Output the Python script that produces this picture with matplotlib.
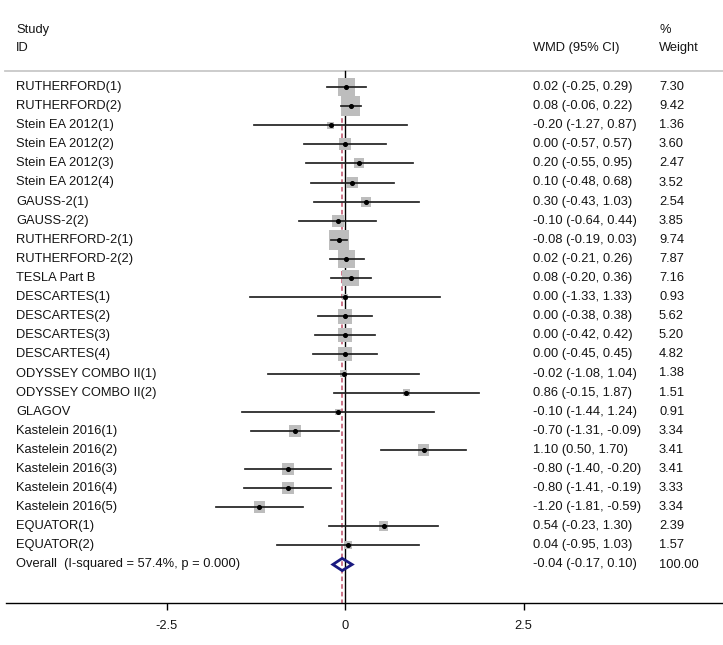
import matplotlib
matplotlib.use("Agg")
import matplotlib.pyplot as plt
import numpy as np
from matplotlib.patches import Polygon
from matplotlib.transforms import blended_transform_factory

plt.rcParams['font.family'] = ['Liberation Sans', 'DejaVu Sans']

studies = ["RUTHERFORD(1)", "RUTHERFORD(2)", "Stein EA 2012(1)", "Stein EA 2012(2)",
           "Stein EA 2012(3)", "Stein EA 2012(4)", "GAUSS-2(1)", "GAUSS-2(2)",
           "RUTHERFORD-2(1)", "RUTHERFORD-2(2)", "TESLA Part B", "DESCARTES(1)",
           "DESCARTES(2)", "DESCARTES(3)", "DESCARTES(4)", "ODYSSEY COMBO II(1)",
           "ODYSSEY COMBO II(2)", "GLAGOV", "Kastelein 2016(1)", "Kastelein 2016(2)",
           "Kastelein 2016(3)", "Kastelein 2016(4)", "Kastelein 2016(5)",
           "EQUATOR(1)", "EQUATOR(2)"]
wmd = [0.02, 0.08, -0.20, 0.00, 0.20, 0.10, 0.30, -0.10, -0.08, 0.02, 0.08, 0.00,
       0.00, 0.00, 0.00, -0.02, 0.86, -0.10, -0.70, 1.10, -0.80, -0.80, -1.20, 0.54, 0.04]
ci_low = [-0.25, -0.06, -1.27, -0.57, -0.55, -0.48, -0.43, -0.64, -0.19, -0.21, -0.20,
          -1.33, -0.38, -0.42, -0.45, -1.08, -0.15, -1.44, -1.31, 0.50, -1.40, -1.41,
          -1.81, -0.23, -0.95]
ci_high = [0.29, 0.22, 0.87, 0.57, 0.95, 0.68, 1.03, 0.44, 0.03, 0.26, 0.36, 1.33,
           0.38, 0.42, 0.45, 1.04, 1.87, 1.24, -0.09, 1.70, -0.20, -0.19, -0.59, 1.30, 1.03]
weights = [7.30, 9.42, 1.36, 3.60, 2.47, 3.52, 2.54, 3.85, 9.74, 7.87, 7.16, 0.93,
           5.62, 5.20, 4.82, 1.38, 1.51, 0.91, 3.34, 3.41, 3.41, 3.33, 3.34, 2.39, 1.57]
overall_label = "Overall  (I-squared = 57.4%, p = 0.000)"
overall_wmd, overall_low, overall_high = -0.04, -0.17, 0.10
overall_weight = "100.00"
xticks = [-2.5, 0, 2.5]
xticklabels = ["-2.5", "0", "2.5"]

W, H = 723, 645
fig = plt.figure(figsize=(W / 100, H / 100), dpi=100)
ax = fig.add_axes([0, 0, 1, 1])
ax.patch.set_alpha(0)

px0, ppu = 345.0, 71.4          # pixel of x=0, pixels per unit
row0, rowh = 87.0, 19.1         # pixel of first row, row height
ax.set_xlim(-px0 / ppu, (W - px0) / ppu)
ax.set_ylim((H - row0) / rowh, -row0 / rowh)

def prow(p):
    return (p - row0) / rowh

n = len(studies)
ys = np.arange(n)
y_over = n
y_axis = prow(603)
y_head = prow(71)

trans = blended_transform_factory(ax.transAxes, ax.transData)
fs = 9.3
tcol = '#141414'

# header
ax.text(16 / W, prow(30), "Study", transform=trans, fontsize=fs, va='center', color=tcol)
ax.text(16 / W, prow(48), "ID", transform=trans, fontsize=fs, va='center', color=tcol)
ax.text(533 / W, prow(48), "WMD (95% CI)", transform=trans, fontsize=fs, va='center', color=tcol)
ax.text(659 / W, prow(30), "%", transform=trans, fontsize=fs, va='center', color=tcol)
ax.text(659 / W, prow(48), "Weight", transform=trans, fontsize=fs, va='center', color=tcol)
ax.plot([5 / W, 1], [y_head, y_head], transform=trans, color='#c8c8c8', lw=1.3, zorder=1)

# reference lines
ax.plot([0, 0], [y_head, y_axis], color='black', lw=1.0, zorder=2)
ax.plot([overall_wmd, overall_wmd], [prow(80), y_axis], color='#c0506a', lw=1.1,
        ls=(0, (3, 2)), zorder=2)

# studies
k = 6.3 / 100 * 72  # points per sqrt(weight)
for i in range(n):
    ax.plot([ci_low[i], ci_high[i]], [ys[i], ys[i]], color='#222222', lw=1.25, zorder=4)
sizes = [(k * np.sqrt(w)) ** 2 for w in weights]
ax.scatter(wmd, ys, s=sizes, marker='s', color='#bdbdbd', edgecolors='none', zorder=3)
ax.scatter(wmd, ys, s=7, marker='o', color='black', zorder=5)

for i in range(n):
    ax.text(16 / W, ys[i], studies[i], transform=trans, fontsize=fs, va='center', color=tcol)
    ax.text(533 / W, ys[i], f"{wmd[i]:.2f} ({ci_low[i]:.2f}, {ci_high[i]:.2f})",
            transform=trans, fontsize=fs, va='center', color=tcol)
    ax.text(659 / W, ys[i], f"{weights[i]:.2f}", transform=trans, fontsize=fs,
            va='center', color=tcol)

# overall diamond
dh = 0.32
diamond = Polygon([[overall_low, y_over], [overall_wmd, y_over - dh],
                   [overall_high, y_over], [overall_wmd, y_over + dh]],
                  closed=True, fill=False, edgecolor='#1a1a80', lw=2.0, zorder=6)
ax.add_patch(diamond)
ax.text(16 / W, y_over, overall_label, transform=trans, fontsize=fs, va='center', color=tcol)
ax.text(533 / W, y_over, f"{overall_wmd:.2f} ({overall_low:.2f}, {overall_high:.2f})",
        transform=trans, fontsize=fs, va='center', color=tcol)
ax.text(659 / W, y_over, overall_weight, transform=trans, fontsize=fs, va='center', color=tcol)

# bottom axis
for s in ['top', 'left', 'right']:
    ax.spines[s].set_visible(False)
ax.spines['bottom'].set_position(('data', y_axis))
ax.spines['bottom'].set_bounds((6 - px0) / ppu, (W - px0) / ppu)
ax.spines['bottom'].set_linewidth(1.0)
ax.set_yticks([])
ax.set_xticks(xticks)
ax.set_xticklabels(xticklabels, fontsize=fs, color=tcol)
ax.tick_params(axis='x', direction='out', length=5, width=1.0, pad=7)

fig.savefig("out.png", dpi=100, facecolor='white')
